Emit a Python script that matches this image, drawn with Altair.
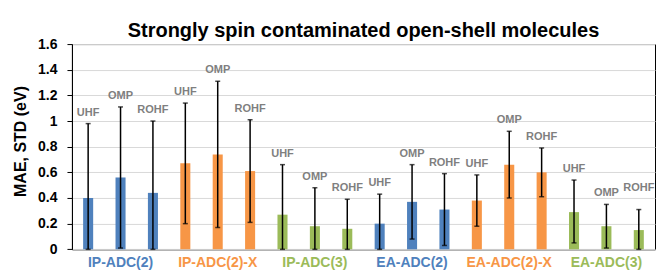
import altair as alt
import pandas as pd

groups = ["IP-ADC(2)", "IP-ADC(2)-X", "IP-ADC(3)", "EA-ADC(2)", "EA-ADC(2)-X", "EA-ADC(3)"]
group_colors = ["#4F81BD", "#F79646", "#9BBB59", "#4F81BD", "#F79646", "#9BBB59"]
methods = ["UHF", "OMP", "ROHF"]

mae = [0.40, 0.56, 0.44, 0.67, 0.74, 0.61, 0.27, 0.18, 0.16,
       0.20, 0.37, 0.31, 0.38, 0.66, 0.60, 0.29, 0.18, 0.15]
err_low = [0.00, 0.01, 0.00, 0.20, 0.17, 0.21, 0.00, 0.00, 0.00,
           0.00, 0.08, 0.03, 0.18, 0.40, 0.41, 0.05, 0.01, 0.00]
err_high = [0.98, 1.11, 1.00, 1.14, 1.31, 1.01, 0.66, 0.48, 0.39,
            0.43, 0.66, 0.59, 0.58, 0.92, 0.79, 0.54, 0.35, 0.31]
y_ticks = [0, 0.2, 0.4, 0.6, 0.8, 1.0, 1.2, 1.4, 1.6]

rows = []
for gi, g in enumerate(groups):
    for mi, m in enumerate(methods):
        i = gi * 3 + mi
        rows.append({"key": f"{g} {m}", "group": g, "method": m, "color": group_colors[gi],
                     "mae": mae[i], "lo": err_low[i], "hi": err_high[i],
                     "raised": (gi == 5 and m == "ROHF")})
df = pd.DataFrame(rows)
order = list(df["key"])

glabels = pd.DataFrame({"key": [f"{g} OMP" for g in groups], "group": groups, "color": group_colors})

W, H = 583.5, 205.4
FONT = "Liberation Sans"

xenc = alt.X("key:N", sort=order,
             scale=alt.Scale(paddingInner=0.69, paddingOuter=0.345),
             axis=None)
yscale = alt.Scale(domain=[0, 1.6], nice=False)
yaxis = alt.Axis(values=y_ticks, format=".1~f", title="MAE, STD (eV)",
                 labelOverlap=False,
                 grid=True, gridColor="#d9d9d9", gridWidth=1,
                 domainColor="black", tickColor="black", tickSize=5,
                 labelFont=FONT, labelFontSize=14, labelFontWeight="bold",
                 labelColor="black", labelPadding=10,
                 titleFont=FONT, titleFontSize=16, titleFontWeight="bold",
                 titleColor="black", titleAngle=270, titleX=-51, titleY=97,
                 titleAlign="center", titleBaseline="middle")


def yenc(field):
    return alt.Y(field, scale=yscale, axis=yaxis, title="MAE, STD (eV)")


bars = alt.Chart(df).mark_bar().encode(
    x=xenc, y=yenc("mae:Q"), color=alt.Color("color:N", scale=None))

rules = alt.Chart(df).mark_rule(color="black", strokeWidth=1.5).encode(
    x=xenc, y=yenc("lo:Q"), y2="hi:Q")
cap_hi = alt.Chart(df).mark_tick(color="black", thickness=1.5, size=5, orient="horizontal").encode(
    x=xenc, y=yenc("hi:Q"))
cap_lo = alt.Chart(df).mark_tick(color="black", thickness=1.5, size=5, orient="horizontal").encode(
    x=xenc, y=yenc("lo:Q"))

mlabels = alt.Chart(df).transform_filter("!datum.raised").mark_text(
    font=FONT, fontSize=11, fontWeight="bold", color="#7f7f7f", baseline="middle", dy=-11
).encode(x=xenc, y=yenc("hi:Q"), text="method:N")
mlabels_raised = alt.Chart(df).transform_filter("datum.raised").mark_text(
    font=FONT, fontSize=11, fontWeight="bold", color="#7f7f7f", baseline="middle", dy=-22
).encode(x=xenc, y=yenc("hi:Q"), text="method:N")

glab = alt.Chart(glabels).mark_text(
    font=FONT, fontSize=14, fontWeight="bold", baseline="middle"
).encode(x=xenc, y=alt.value(H + 14), text="group:N", color=alt.Color("color:N", scale=None))

chart = alt.layer(bars, rules, cap_hi, cap_lo, mlabels, mlabels_raised, glab).properties(
    width=W, height=H,
    title=alt.TitleParams("Strongly spin contaminated open-shell molecules",
                          font=FONT, fontSize=20, fontWeight="bold", color="black",
                          anchor="middle", offset=4, dy=8),
    autosize=alt.AutoSizeParams(type="none"),
    padding={"left": 64, "top": 36, "right": 1, "bottom": 26},
).configure_view(stroke="black", strokeWidth=1)

chart.save("out.html", embed_options={"renderer": "svg", "actions": False})
